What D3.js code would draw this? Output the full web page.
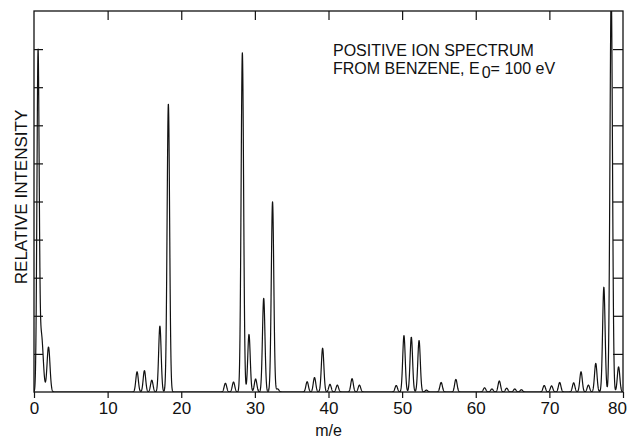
<!DOCTYPE html>
<html>
    <head>
        <title></title>
        <style>
            body { margin: 0; background: #fff; }
            svg text { font-family: "Liberation Sans", Arial, sans-serif; fill: #111; }
        </style>
    </head>
    <body>
        <script src="https://cdnjs.cloudflare.com/ajax/libs/d3/7.8.5/d3.min.js" charset="utf-8"></script>
        <script>

        var w = 627;
        var h = 439;

        // peaks: position (m/e), height (tick units), width
        var peakMz = [0.55, 1.0, 1.97, 14.0, 15.0, 16.0, 17.1, 18.25, 26.0, 27.1, 28.3, 29.2, 30.1, 31.2, 32.4, 33.1,
                      37.1, 38.1, 39.2, 40.2, 41.2, 43.2, 44.2, 49.2, 50.25, 51.25, 52.3, 53.3, 55.3, 57.3,
                      61.2, 62.2, 63.2, 64.2, 65.3, 66.2, 69.3, 70.3, 71.4, 73.3, 74.3, 75.3, 76.3, 77.4, 78.4, 79.4];
        var peakHeight = [8.7, 1.5, 1.18, 0.53, 0.56, 0.31, 1.73, 7.56, 0.23, 0.26, 8.9, 1.51, 0.34, 2.46, 4.99, 0.08,
                          0.27, 0.38, 1.15, 0.2, 0.18, 0.35, 0.18, 0.17, 1.48, 1.44, 1.35, 0.05, 0.25, 0.33,
                          0.11, 0.08, 0.29, 0.1, 0.08, 0.06, 0.17, 0.16, 0.25, 0.24, 0.53, 0.18, 0.75, 2.75, 10.5, 0.66];
        var peakWidth = [0.15, 0.25, 0.2];   // the rest use defaultWidth
        var defaultWidth = 0.17;

        var xTicks = [0, 10, 20, 30, 40, 50, 60, 70, 80];
        var yTicks = [1, 2, 3, 4, 5, 6, 7, 8, 9];

        var xScale = d3.scaleLinear().domain([0, 80]).range([34, 623]);
        var yScale = d3.scaleLinear().domain([0, 10]).range([392, 11]);

        var peaks = peakMz.map(function(m, i) {
            return { mz: m, height: peakHeight[i], width: peakWidth[i] || defaultWidth };
        });

        // trace = sum of the peak profiles, sampled along the m/e axis
        var trace = d3.range(0, 80.001, 0.02).map(function(x) {
            var y = 0;
            peaks.forEach(function(p) {
                var d = (x - p.mz) / p.width;
                if (Math.abs(d) < 6) y += p.height * Math.exp(-d * d / 2);
            });
            return { x: x, y: y };
        });

        var svg = d3.select("body")
                    .append("svg")
                    .attr("width", w)
                    .attr("height", h);

        svg.append("clipPath")
            .attr("id", "plot")
            .append("rect")
            .attr("x", xScale(0))
            .attr("y", yScale(10))
            .attr("width", xScale(80) - xScale(0))
            .attr("height", yScale(0) - yScale(10));

        var line = d3.line()
                     .x(function(d) { return xScale(d.x); })
                     .y(function(d) { return yScale(d.y); });

        svg.append("path")
            .datum(trace)
            .attr("clip-path", "url(#plot)")
            .attr("d", line)
            .attr("fill", "none")
            .attr("stroke", "#111")
            .attr("stroke-width", 1.2)
            .attr("stroke-linejoin", "round");

        //Axes
        var bottom = svg.append("g")
            .attr("transform", "translate(0," + yScale(0) + ")")
            .call(d3.axisBottom(xScale).tickValues(xTicks).tickSize(6).tickPadding(4).tickFormat(d3.format("d")));
        bottom.selectAll("text").style("font-size", "17px").attr("fill", "#111");
        // last label sits against the right edge
        bottom.selectAll("text").filter(function(d) { return d === 80; }).attr("dx", -6);

        svg.append("g")
            .attr("transform", "translate(0," + yScale(10) + ")")
            .call(d3.axisTop(xScale).tickValues(xTicks.slice(1, -1)).tickSize(-9).tickFormat(""));

        svg.append("g")
            .attr("transform", "translate(" + xScale(0) + ",0)")
            .call(d3.axisLeft(yScale).tickValues(yTicks).tickSize(-9).tickFormat(""));

        svg.append("g")
            .attr("transform", "translate(" + xScale(80) + ",0)")
            .call(d3.axisRight(yScale).tickValues(yTicks).tickSize(-10).tickFormat(""));

        svg.selectAll(".domain").remove();
        svg.selectAll(".tick line").attr("stroke", "#111").attr("stroke-width", 1.2);

        svg.append("rect")
            .attr("x", xScale(0))
            .attr("y", yScale(10))
            .attr("width", xScale(80) - xScale(0))
            .attr("height", yScale(0) - yScale(10))
            .attr("fill", "none")
            .attr("stroke", "#111")
            .attr("stroke-width", 1.3);

        //Labels
        svg.append("text")
            .text("m/e")
            .attr("x", (xScale(0) + xScale(80)) / 2)
            .attr("y", 436)
            .attr("text-anchor", "middle")
            .style("font-size", "16px");

        svg.append("text")
            .text("RELATIVE INTENSITY")
            .attr("transform", "translate(27,197) rotate(-90)")
            .attr("text-anchor", "middle")
            .style("font-size", "17px");

        var note = svg.append("text")
            .attr("x", 333)
            .attr("y", 56)
            .style("font-size", "16px");
        note.append("tspan").text("POSITIVE ION SPECTRUM");
        note.append("tspan").attr("x", 333).attr("dy", 18).text("FROM BENZENE, E");
        note.append("tspan").attr("dx", 2).attr("dy", 4).text("0");
        note.append("tspan").attr("dy", -4).text("= 100 eV");

        </script>
    </body>
</html>
